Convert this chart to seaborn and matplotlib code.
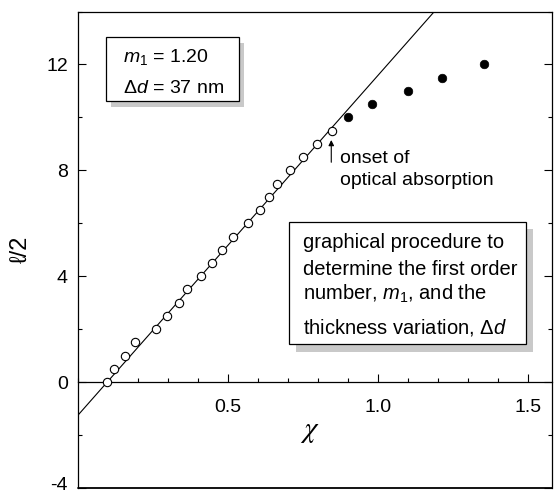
import numpy as np
import pandas as pd
import matplotlib
matplotlib.use("Agg")
import matplotlib.pyplot as plt
import matplotlib.patches as patches
from matplotlib.ticker import MultipleLocator
from matplotlib.transforms import ScaledTranslation
import seaborn as sns

# data
chi_open = [0.099, 0.122, 0.158, 0.193, 0.260, 0.297, 0.338, 0.364, 0.411,
            0.447, 0.480, 0.517, 0.568, 0.608, 0.637, 0.664, 0.707, 0.751,
            0.798, 0.846]
half_l_open = [0.0, 0.5, 1.0, 1.5, 2.0, 2.5, 3.0, 3.5, 4.0, 4.5, 5.0, 5.5,
               6.0, 6.5, 7.0, 7.5, 8.0, 8.5, 9.0, 9.5]
chi_filled = [0.901, 0.981, 1.099, 1.214, 1.353]
half_l_filled = [10.0, 10.5, 11.0, 11.5, 12.0]

# straight line drawn through the open points
fit_slope = 12.85
fit_intercept = -1.27
fit_range = [0.0, 1.25]

x_ticks = [0.5, 1.0, 1.5]
y_ticks = [-4, 0, 4, 8, 12]

sns.set_theme(style="ticks")
plt.rcParams['font.family'] = ['Liberation Sans', 'DejaVu Sans']
plt.rcParams['mathtext.fontset'] = 'custom'
plt.rcParams['mathtext.rm'] = 'Liberation Sans'
plt.rcParams['mathtext.it'] = 'Liberation Sans:italic'
for key in ('text.color', 'xtick.color', 'ytick.color', 'axes.labelcolor',
            'xtick.labelcolor', 'ytick.labelcolor'):
    plt.rcParams[key] = 'black'

fig = plt.figure(figsize=(5.55, 4.95), dpi=100)
W, H = 555, 495
L, R, T, B = 77.5, 552, 11.5, 488
ax = fig.add_axes([L / W, 1 - B / H, (R - L) / W, (B - T) / H])

df_open = pd.DataFrame({'chi': chi_open, 'l2': half_l_open})
df_filled = pd.DataFrame({'chi': chi_filled, 'l2': half_l_filled})
fit_x = np.array(fit_range)
df_fit = pd.DataFrame({'chi': fit_x, 'l2': fit_slope * fit_x + fit_intercept})

sns.lineplot(data=df_fit, x='chi', y='l2', ax=ax, color='black', lw=0.8, zorder=2)
sns.scatterplot(data=df_open, x='chi', y='l2', ax=ax, marker='o', s=36,
                facecolor='white', edgecolor='black', linewidth=0.8, zorder=3)
sns.scatterplot(data=df_filled, x='chi', y='l2', ax=ax, marker='o', s=38,
                color='black', edgecolor='black', linewidth=0.5, zorder=3)

ax.set_xlim(0, 1.58)
ax.set_ylim(-4, 14)
ax.set_xlabel('')
ax.set_ylabel('')

# x axis sits on the zero line, frame closed by a separate line
for s in ax.spines.values():
    s.set_linewidth(0.9)
    s.set_color('black')
ax.spines['bottom'].set_position(('data', 0))
ax.plot([0, 1], [0, 0], transform=ax.transAxes, color='black', lw=1.3,
        clip_on=False, zorder=5)

ax.xaxis.set_major_locator(plt.FixedLocator(x_ticks))
ax.xaxis.set_minor_locator(MultipleLocator(0.1))
ax.yaxis.set_major_locator(plt.FixedLocator(y_ticks))
ax.yaxis.set_minor_locator(MultipleLocator(2))
ax.set_xticklabels([f"{v:.1f}" for v in x_ticks])
ax.set_yticklabels([str(v) for v in y_ticks])
ax.tick_params(which='both', direction='in', top=False, right=True,
               labelright=False, color='black', width=0.8)
ax.tick_params(which='major', length=5.8)
ax.tick_params(which='minor', length=3.2)
ax.tick_params(axis='x', which='major', pad=12, labelsize=14)
ax.tick_params(axis='y', which='major', pad=7, labelsize=14)

# nudge the lowest label up a little so it stays inside the figure
for lab in ax.get_yticklabels():
    if lab.get_text() == '-4':
        lab.set_transform(lab.get_transform()
                          + ScaledTranslation(0, 3 / 72, fig.dpi_scale_trans))

ax.text(0.49, 0.12, r'$\chi$', transform=ax.transAxes, ha='center',
        va='center', fontsize=21, math_fontfamily='stix')
ax.text(-0.12, 0.5, 'ℓ/2', transform=ax.transAxes, ha='center', va='center',
        rotation=90, fontsize=17)


def fx(px):
    return (px - L) / (R - L)


def fy(py):
    return (B - py) / (B - T)


def shadow_box(x0, y0, x1, y1, dx, dy):
    """white framed box with a grey drop shadow, pixel coordinates"""
    sh = patches.Rectangle((fx(x0 + dx), fy(y1 + dy)), fx(x1) - fx(x0),
                           fy(y0) - fy(y1), transform=ax.transAxes,
                           facecolor='#c9c9c9', edgecolor='none', zorder=6)
    bx = patches.Rectangle((fx(x0), fy(y1)), fx(x1) - fx(x0),
                           fy(y0) - fy(y1), transform=ax.transAxes,
                           facecolor='white', edgecolor='black', lw=0.9,
                           zorder=7)
    ax.add_patch(sh)
    ax.add_patch(bx)


shadow_box(105.7, 36.7, 239.3, 100.7, 5, 6)
ax.text(fx(123), fy(61.7), r'$m_1$ = 1.20', transform=ax.transAxes,
        va='baseline', fontsize=14, zorder=8)
ax.text(fx(123), fy(93.3), r'Δ$d$ = 37 nm', transform=ax.transAxes,
        va='baseline', fontsize=14, zorder=8)

shadow_box(289, 221.7, 525.7, 344, 7, 7.7)
box_lines = ['graphical procedure to', 'determine the first order',
             r'number, $m_1$, and the', r'thickness variation, Δ$d$']
box_base = [248.3, 275, 300, 333.3]
for txt, py in zip(box_lines, box_base):
    ax.text(fx(303), fy(py), txt, transform=ax.transAxes, va='baseline',
            fontsize=14.5, zorder=8)

ax.annotate('', xy=(0.845, 9.25), xytext=(0.845, 8.2),
            arrowprops=dict(arrowstyle='-|>', color='black', lw=0.8,
                            mutation_scale=8))
ax.text(0.875, 8.27, 'onset of', va='baseline', fontsize=14)
ax.text(0.875, 7.45, 'optical absorption', va='baseline', fontsize=14)

fig.savefig('out.png', dpi=100)
